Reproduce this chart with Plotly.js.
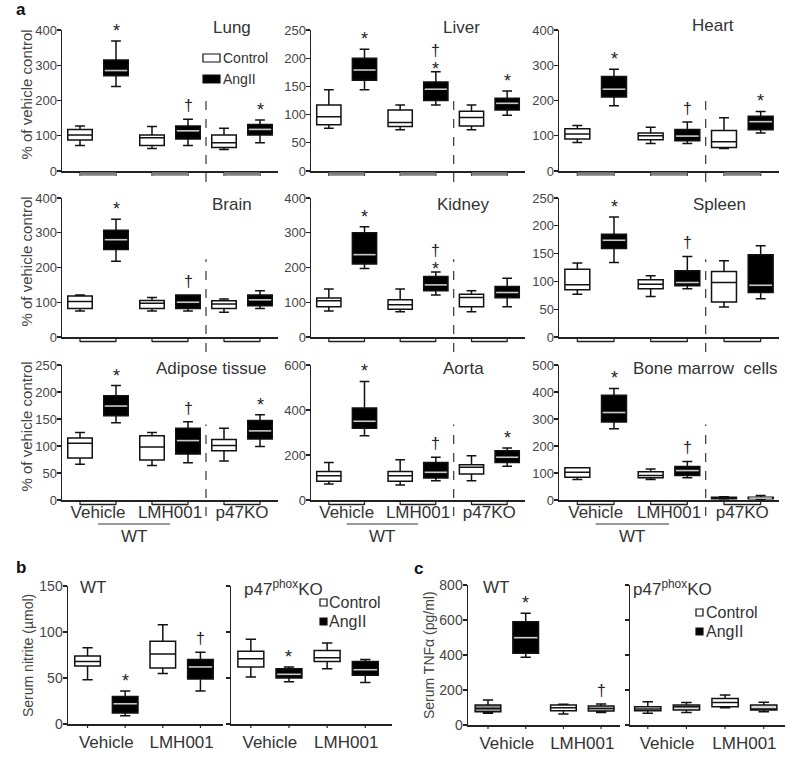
<!DOCTYPE html>
<html>
<head>
<meta charset="utf-8">
<script src="https://cdn.plot.ly/plotly-3.0.1.min.js"></script>
<style>
html,body{margin:0;padding:0;background:#fff;}
#fig{width:798px;height:761px;}
</style>
</head>
<body>
<div id="fig"></div>
<script>
// ================= DATA =================
// Each box: [lower whisker, Q1, median, Q3, upper whisker]
// Panel a box order: Vehicle-Control, Vehicle-AngII, LMH001-Control, LMH001-AngII, p47KO-Control, p47KO-AngII
const groupsA = ['Vehicle', 'LMH001', 'p47KO'];
const groupsBC = ['Vehicle', 'LMH001'];
const treatments = ['Control', 'AngII'];
const tissues = ['Lung', 'Liver', 'Heart', 'Brain', 'Kidney', 'Spleen', 'Adipose tissue', 'Aorta', 'Bone marrow  cells'];

const lung    = [[72,88,102,118,128],[240,270,285,315,369],[64,72,94,102,126],[72,91,114,128,147],[61,67,80,102,121],[80,102,118,132,145]];
const liver   = [[76,82,96,117,144],[144,161,179,200,216],[73,79,86,108,117],[117,125,145,158,176],[73,80,95,106,117],[99,108,120,129,142]];
const heart   = [[81,91,105,120,129],[185,210,232,268,289],[78,89,100,108,124],[78,86,99,118,139],[64,67,83,115,151],[108,117,140,155,169]];
const brain   = [[75,82,102,118,121],[218,252,280,307,339],[75,82,97,105,114],[75,82,100,121,121],[71,82,95,104,109],[82,90,107,121,133]];
const kidney  = [[75,87,104,112,138],[197,210,237,300,317],[73,80,93,107,138],[121,133,150,174,187],[73,87,114,123,133],[87,113,128,145,169]];
const spleen  = [[77,85,94,122,133],[134,159,174,185,216],[73,87,95,103,110],[87,92,98,119,145],[54,63,98,118,137],[69,80,93,148,164]];
const adipose = [[66,78,105,115,125],[143,156,174,193,212],[64,74,98,119,125],[69,85,110,133,145],[72,91,101,112,133],[99,113,128,147,158]];
const aorta   = [[71,83,108,127,167],[286,319,350,409,527],[67,83,108,127,179],[86,98,123,167,190],[86,116,145,157,197],[150,167,190,219,231]];
const boneMarrow = [[76,84,103,119,119],[264,289,324,388,413],[76,82,91,105,115],[82,91,109,124,143],[4,5,7,10,12],[3,5,7,10,17]];

// significance marks above boxes
const lungSig    = ['', '*', '', '†', '', '*'];
const liverSig   = ['', '*', '', '*†', '', '*'];
const heartSig   = ['', '*', '', '†', '', '*'];
const brainSig   = ['', '*', '', '†', '', ''];
const kidneySig  = ['', '*', '', '*†', '', ''];
const spleenSig  = ['', '*', '', '†', '', ''];
const adiposeSig = ['', '*', '', '†', '', '*'];
const aortaSig   = ['', '*', '', '†', '', '*'];
const boneSig    = ['', '*', '', '†', '', ''];

// Panel b/c box order: Vehicle-Control, Vehicle-AngII, LMH001-Control, LMH001-AngII
const nitriteWT = [[48,63,68,74,83],[9,12,22,30,36],[55,61,76,90,108],[36,49,62,70,78]];
const nitriteKO = [[51,62,71,79,92],[46,50,54,60,62],[60,68,72,80,88],[45,53,59,68,70]];
const tnfWT = [[67,76,95,114,143],[387,410,499,590,638],[63,82,99,114,118],[72,80,95,109,120]];
const tnfKO = [[67,82,91,105,133],[72,86,105,114,128],[99,105,128,152,171],[76,86,91,114,130]];
const nitriteWTSig = ['', '*', '', '†'];
const nitriteKOSig = ['', '*', '', ''];
const tnfWTSig = ['', '*', '', '†'];
const tnfKOSig = ['', '', '', ''];

// ================= RENDER =================
const FONT = '"Liberation Sans", Arial, Helvetica, sans-serif';
const W = 798, H = 761;
const px = v => v / W;
const py = v => 1 - v / H;

const traces = [], shapes = [], annotations = [];
const layout = {
  width: W, height: H,
  margin: {l: 0, r: 0, t: 0, b: 0},
  paper_bgcolor: '#fff', plot_bgcolor: 'rgba(0,0,0,0)',
  showlegend: false, boxmode: 'overlay',
  font: {family: FONT, color: '#333'},
  shapes: shapes, annotations: annotations
};
const sfx = k => (k === 1 ? '' : String(k));

function addPanel(k, cfg) {
  const xa = 'x' + sfx(k), ya = 'y' + sfx(k);
  const [x0, x1] = cfg.xPx, [yT, yB] = cfg.yPx;
  layout['xaxis' + sfx(k)] = {
    domain: [px(x0), px(x1)], anchor: ya, range: cfg.xRange,
    showline: true, linecolor: '#222', linewidth: 1.5, showgrid: false, zeroline: false,
    tickmode: 'array', tickvals: cfg.groups.map((_, g) => 2 * g + 0.5), ticktext: cfg.groups,
    ticks: 'outside', ticklen: cfg.labelGap, tickcolor: 'rgba(0,0,0,0)', ticklabelstandoff: cfg.xStandoff,
    showticklabels: cfg.showX, tickfont: {family: FONT, size: 17, color: '#333'}, fixedrange: true
  };
  layout['yaxis' + sfx(k)] = {
    domain: [py(yB), py(yT)], anchor: xa, range: [0, cfg.yMax], tick0: 0, dtick: cfg.dtick,
    showline: true, linecolor: '#222', linewidth: 1.5, showgrid: false, zeroline: false,
    ticks: 'outside', ticklen: 4, tickwidth: 1.2, tickcolor: '#222', ticklabelstandoff: -3,
    showticklabels: cfg.showY, tickfont: {family: FONT, size: cfg.yFont, color: '#444'}, fixedrange: true
  };
  if (cfg.yTitle) {
    // y-axis title text, placed beside the tick labels
    annotations.push({xref: 'paper', yref: 'paper', x: px(cfg.yTitle[1]), y: py(cfg.yTitle[2]),
      text: cfg.yTitle[0], textangle: -90, showarrow: false, xanchor: 'center', yanchor: 'middle',
      font: {family: FONT, size: cfg.yTitleSize, color: '#444'}});
  }
  cfg.data.forEach((b, i) => {
    traces.push({
      type: 'box', orientation: 'v', xaxis: xa, yaxis: ya, x: [i],
      lowerfence: [b[0]], q1: [b[1]], median: [b[2]], q3: [b[3]], upperfence: [b[4]],
      width: 0.68, whiskerwidth: 0.4, fillcolor: cfg.fills[i],
      line: {color: '#111', width: 1.5}, boxpoints: false, hoverinfo: 'skip', showlegend: false,
      name: treatments[i % 2]
    });
    if (cfg.meds[i]) {
      traces.push({type: 'scatter', mode: 'lines', xaxis: xa, yaxis: ya,
        x: [i - 0.31, i + 0.31], y: [b[2], b[2]],
        line: {color: cfg.meds[i], width: 1.6}, hoverinfo: 'skip', showlegend: false});
    }
    const s = cfg.sig[i];
    if (s) {
      const both = s.length > 1;
      if (s.indexOf('*') >= 0) annotations.push({xref: xa, yref: ya, x: i, y: b[4], text: '*', showarrow: false,
        yanchor: 'bottom', yshift: both ? -9 : -2, font: {family: FONT, size: 18, color: '#222'}});
      if (s.indexOf('†') >= 0) annotations.push({xref: xa, yref: ya, x: i, y: b[4], text: '†', showarrow: false,
        yanchor: 'bottom', yshift: both ? 11 : 3, font: {family: FONT, size: 16, color: '#222'}});
    }
  });
  return {xa, ya};
}

// ---- panel a ----
const aData = [lung, liver, heart, brain, kidney, spleen, adipose, aorta, boneMarrow];
const aSig = [lungSig, liverSig, heartSig, brainSig, kidneySig, spleenSig, adiposeSig, aortaSig, boneSig];
const aMax = [400, 250, 400, 400, 400, 250, 250, 600, 500];
const aTick = [100, 50, 100, 100, 100, 50, 50, 200, 100];
const COLS = [[62, 278], [311, 525], [559, 779]];
const ROWS = [[30, 171], [198, 337], [365, 500]];
const TITLE_POS = [[232, 27], [461, 27], [713, 26], [232, 205], [463, 205], [719, 205], [211, 368], [463, 368], [705, 368]];
const DASH_BELOW = [11, 15, 16];

aData.forEach((data, idx) => {
  const r = Math.floor(idx / 3), c = idx % 3;
  const {xa} = addPanel(idx + 1, {
    xPx: COLS[c], yPx: ROWS[r], xRange: [-0.5, 5.5], groups: groupsA, showX: r === 2, labelGap: 0, xStandoff: -4,
    yMax: aMax[idx], dtick: aTick[idx], showY: true, yFont: 13,
    yTitle: c === 0 ? ['% of vehicle control', 26, (ROWS[r][0] + ROWS[r][1]) / 2 - 6] : null, yTitleSize: 15,
    fills: data.map((_, i) => (i % 2 ? '#000' : '#fff')),
    meds: data.map((_, i) => (i % 2 ? '#c8c8c8' : null)),
    sig: aSig[idx], data: data
  });
  annotations.push({xref: 'paper', yref: 'paper', x: px(TITLE_POS[idx][0]), y: py(TITLE_POS[idx][1]),
    text: tissues[idx], showarrow: false, xanchor: 'center', yanchor: 'middle',
    font: {family: FONT, size: 17, color: '#333'}});
  const yb = ROWS[r][1], yt = ROWS[r][0];
  for (let g = 0; g < 3; g++) {
    const a0 = 2 * g, a1 = 2 * g + 1;
    shapes.push({type: 'path', xref: xa, yref: 'paper',
      path: `M${a0},${py(yb)}L${a0},${py(yb + 5)}M${a1},${py(yb)}L${a1},${py(yb + 5)}`,
      line: {color: '#222', width: 1.2}});
    if (r === 0) {
      shapes.push({type: 'line', xref: xa, yref: 'paper', x0: a0, x1: a1, y0: py(yb + 3), y1: py(yb + 3),
        line: {color: '#808080', width: 3.5}});
    } else {
      shapes.push({type: 'line', xref: xa, yref: 'paper', x0: a0, x1: a1, y0: py(yb + 4.5), y1: py(yb + 4.5),
        line: {color: '#222', width: 1.5}});
    }
  }
  shapes.push({type: 'line', xref: xa, yref: 'paper', x0: 3.5, x1: 3.5,
    y0: py(yb + DASH_BELOW[r]), y1: py(yb - 0.56 * (yb - yt)),
    line: {color: '#444', width: 1.3, dash: 'dash'}});
  if (r === 2) {
    shapes.push({type: 'line', xref: xa, yref: 'paper', x0: 0.5, x1: 2.5, y0: py(524), y1: py(524),
      line: {color: '#333', width: 1}});
    annotations.push({xref: xa, yref: 'paper', x: 1.5, y: py(536), text: 'WT', showarrow: false,
      xanchor: 'center', yanchor: 'middle', font: {family: FONT, size: 17, color: '#333'}});
  }
});

// ---- panels b and c ----
const bcPanels = [
  {k: 10, xPx: [68, 223], yPx: [586, 724], xRange: [-0.52, 3.6], yMax: 150, dtick: 50, showY: true,
   yTitle: ['Serum nitrite (µmol)', 28, 656], data: nitriteWT, sig: nitriteWTSig,
   fills: ['#fff', '#000', '#fff', '#000'], meds: [null, '#c8c8c8', null, '#c8c8c8']},
  {k: 11, xPx: [231, 392], yPx: [586, 724], xRange: [-0.52, 3.7], yMax: 150, dtick: 50, showY: false,
   yTitle: null, data: nitriteKO, sig: nitriteKOSig,
   fills: ['#fff', '#000', '#fff', '#000'], meds: [null, '#c8c8c8', null, '#c8c8c8']},
  {k: 12, xPx: [468, 620], yPx: [585, 725], xRange: [-0.53, 3.5], yMax: 800, dtick: 200, showY: true,
   yTitle: ['Serum TNFα (pg/ml)', 429, 655], data: tnfWT, sig: tnfWTSig,
   fills: ['#8c8c8c', '#000', '#fff', '#c4c4c4'], meds: [null, '#d0d0d0', null, null]},
  {k: 13, xPx: [630, 785], yPx: [585, 725], xRange: [-0.46, 3.55], yMax: 800, dtick: 200, showY: false,
   yTitle: null, data: tnfKO, sig: tnfKOSig,
   fills: ['#fff', '#d9d9d9', '#fff', '#d9d9d9'], meds: [null, null, null, null]}
];
bcPanels.forEach(p => {
  const {xa} = addPanel(p.k, {
    xPx: p.xPx, yPx: p.yPx, xRange: p.xRange, groups: groupsBC, showX: true, labelGap: 2, xStandoff: 0,
    yMax: p.yMax, dtick: p.dtick, showY: p.showY, yFont: 14, yTitle: p.yTitle, yTitleSize: 14,
    fills: p.fills, meds: p.meds, sig: p.sig, data: p.data
  });
  const yb = p.yPx[1];
  p.data.forEach((_, i) => {
    shapes.push({type: 'line', xref: xa, yref: 'paper', x0: i, x1: i, y0: py(yb), y1: py(yb + 4),
      line: {color: '#222', width: 1.2}});
  });
});

// sub-panel titles for b and c
[[78, 587, 'WT'], [242, 588, 'p47<sup>phox</sup>KO'], [481, 587, 'WT'], [631, 588, 'p47<sup>phox</sup>KO']].forEach(t => {
  annotations.push({xref: 'paper', yref: 'paper', x: px(t[0]), y: py(t[1]), text: t[2], showarrow: false,
    xanchor: 'left', yanchor: 'middle', font: {family: FONT, size: 17, color: '#333'}});
});

// panel letters
[[21, 9, 'a'], [21, 567, 'b'], [418, 568, 'c']].forEach(t => {
  annotations.push({xref: 'paper', yref: 'paper', x: px(t[0]), y: py(t[1]), text: '<b>' + t[2] + '</b>',
    showarrow: false, xanchor: 'center', yanchor: 'middle', font: {family: FONT, size: 17, color: '#111'}});
});

// legends (icon boxes + labels)
function legendItem(x0, y0, w, h, fill, label, tx, ty, size) {
  shapes.push({type: 'rect', xref: 'paper', yref: 'paper', x0: px(x0), x1: px(x0 + w), y0: py(y0 + h), y1: py(y0),
    fillcolor: fill, line: {color: '#111', width: 1.2}});
  annotations.push({xref: 'paper', yref: 'paper', x: px(tx), y: py(ty), text: label, showarrow: false,
    xanchor: 'left', yanchor: 'middle', borderpad: 0, font: {family: FONT, size: size, color: '#333'}});
}
legendItem(203, 54, 17, 8, '#fff', treatments[0], 222, 58, 14);
legendItem(203, 75, 17, 8, '#000', treatments[1], 222, 79, 14);
legendItem(320, 599, 7, 7, '#fff', treatments[0], 328, 602, 16);
legendItem(320, 618, 7, 7, '#000', treatments[1], 328, 621, 16);
legendItem(696, 609, 7, 7, '#fff', treatments[0], 705, 612, 16);
legendItem(696, 628, 7, 7, '#000', treatments[1], 705, 631, 16);

Plotly.newPlot('fig', traces, layout, {staticPlot: true, displayModeBar: false});
</script>
</body>
</html>
